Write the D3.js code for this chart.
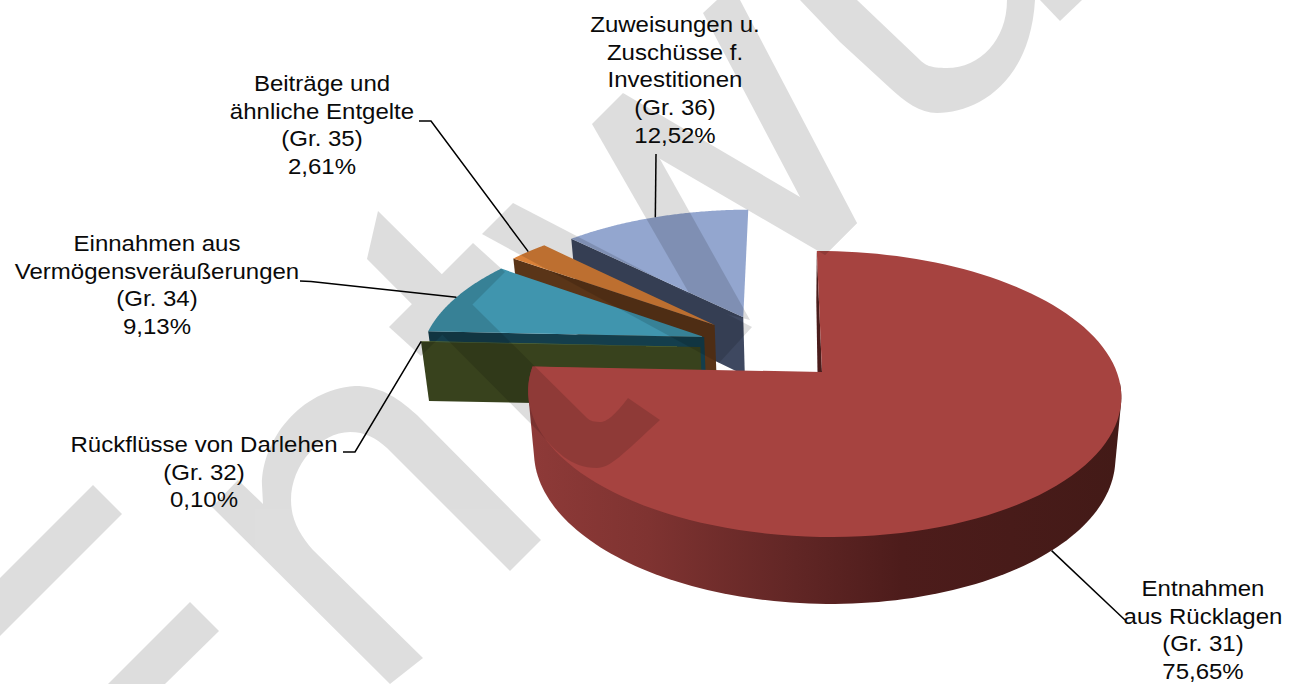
<!DOCTYPE html>
<html lang="de">
<head>
<meta charset="utf-8">
<title>Einnahmen</title>
<script src="https://cdnjs.cloudflare.com/ajax/libs/d3/7.8.5/d3.min.js"></script>
<style>
html,body{margin:0;padding:0;background:#fff;overflow:hidden}
svg{display:block}
text{font-family:"Liberation Sans",Arial,sans-serif;font-size:22.5px;fill:#0a0a0a;text-anchor:middle}
</style>
</head>
<body>
<svg id="chart" width="1301" height="684"></svg>
<script>
// ---- data ----
const groups = ["Gr. 31", "Gr. 32", "Gr. 34", "Gr. 35", "Gr. 36"];
const shares = [75.65, 0.10, 9.13, 2.61, 12.52];
const labels = [
  ["Entnahmen", "aus Rücklagen", "(Gr. 31)", "75,65%"],
  ["Rückflüsse von Darlehen", "(Gr. 32)", "0,10%"],
  ["Einnahmen aus", "Vermögensveräußerungen", "(Gr. 34)", "9,13%"],
  ["Beiträge und", "ähnliche Entgelte", "(Gr. 35)", "2,61%"],
  ["Zuweisungen u.", "Zuschüsse f.", "Investitionen", "(Gr. 36)", "12,52%"]
];

// ---- styles ----
const topColors  = ["#a64340", "#5d6b30", "#4095ae", "#da8138", "#93a6cf"];
const wallColors = ["#8e3a38", "#38421d", "#143e4c", "#5a3518", "#3e4860"];

// ---- layout: how far each slice is pulled out of the pie, in pie radii ----
const pullU = [0, -0.424, -0.414, -0.38, -0.278];
const pullV = [0, 0.185, 0.261, 0.355, 0.419];
// label centre x, first baseline y, and leader start points
const labelX = [1203, 204, 157, 322, 675];
const labelY = [596, 452, 251, 91, 32];
const leaderStart = [[1125, 620], [343, 452], [300, 281], [419, 121], [656, 154]];
const leaderElbow = [null, [355, 452], [311, 281.5], [431, 121], null];
const lineGap = 27.7;

// ---- perspective view of the pie's plane ----
const cx = 822, cy = 372, R = 293, Ry = 139.6, persp = 0.154, lean = 0.006, skew = -6;
function project(u, v) {
  const w = 1 + persp * v - lean * u;
  return [cx + (R * u + skew * v) / w, cy - Ry * v / w];
}
// the same point on the lower face of the disc
function drop(p) {
  return [cx + (p[0] - cx) * 0.98, p[1] + 59 + 0.04 * (p[1] - 340)];
}

const arcs = d3.pie().sort(null).startAngle(0).endAngle(2 * Math.PI)(shares);
const rim = (i, t) => project(pullU[i] + Math.sin(t), pullV[i] + Math.cos(t));
const apex = i => project(pullU[i], pullV[i]);
const sweep = (i, a, b) => d3.range(0, 121).map(s => rim(i, a + (b - a) * s / 120));

const svg = d3.select("#chart");
const line = d3.line();
const closed = pts => line(pts) + "Z";

// wall shading of the big slice
const grad = svg.append("defs").append("linearGradient")
  .attr("id", "wall").attr("gradientUnits", "userSpaceOnUse")
  .attr("x1", 530).attr("x2", 1120).attr("y1", 0).attr("y2", 0);
[[0, "#8e3a38"], [0.2, "#7f3331"], [0.45, "#612625"], [0.63, "#4d1c1b"], [1, "#431a17"]]
  .forEach(s => grad.append("stop").attr("offset", s[0]).attr("stop-color", s[1]));

const chart = svg.append("g");

// far slices first, each: cut face, then top
[4, 3, 2, 1].forEach(i => {
  const a = arcs[i], p0 = rim(i, a.startAngle), ap = apex(i);
  chart.append("path").attr("fill", wallColors[i])
    .attr("d", closed([p0, ap, drop(ap), drop(p0)]));
  chart.append("path").attr("fill", topColors[i])
    .attr("d", closed([ap].concat(sweep(i, a.startAngle, a.endAngle))));
});

// big slice: outer wall, inner cut face, top
const big = arcs[0];
const frontTop = sweep(0, 1.65, big.endAngle);
chart.append("path").attr("fill", "url(#wall)")
  .attr("d", closed(d3.polygonHull(frontTop.concat(frontTop.map(drop)))));
const p0 = rim(0, 0), ap0 = apex(0);
chart.append("path").attr("fill", "#4a1c1b")
  .attr("d", closed([p0, ap0, [ap0[0] - 4.5, ap0[1]], [p0[0] - 0.5, p0[1] + 50]]));
chart.append("path").attr("fill", topColors[0])
  .attr("d", closed([ap0].concat(sweep(0, big.startAngle, big.endAngle))));

// leader lines end on the slice edge at its middle angle
const g = svg.append("g");
arcs.forEach((a, i) => {
  const mid = (a.startAngle + a.endAngle) / 2;
  const end = i === 0 ? drop(rim(0, mid)) : rim(i, mid);
  const pts = [leaderStart[i]];
  if (leaderElbow[i]) pts.push(leaderElbow[i]);
  pts.push(end);
  g.append("path").attr("d", line(pts)).attr("fill", "none")
    .attr("stroke", "#000").attr("stroke-width", 1.5);
});

// pale watermark shapes that lie over the chart
const watermark = [
  "M93,485 L122,514 L0,636 L0,578Z",
  "M190,602 L219,631 L165,684 L108,684Z",
  "M541,540 L417,415 C395,395 378,386 355,386 C300,390 262,440 262,485 L263,504 L238,480 L212,507 L390,684 L423,658 L313,550 C300,535 291,520 291,500 C291,465 320,432 350,432 C365,432 376,438 387,448 L510,571Z",
  "M378,211 L367,259 L540,433 C555,450 570,468 597,468 C610,468 622,455 660,420 L628,398 C615,415 607,422 600,422 C595,422 590,421 587,418Z",
  "M389,327 L473,243 L505,272 L421,356Z",
  "M513,203 L752,327 L719,363 L482,234Z",
  "M592,124 L623,93 L750,320 L697,307Z",
  "M623,93 L800,197 L857,223 L825,255 L650,153Z",
  "M703,13 L717,0 L740,0 L857,223 L825,255 L800,197Z",
  "M800,0 L840,42 L890,88 C905,102 920,113 937,113 C975,113 1030,85 1035,0 L1007,0 C1007,40 980,68 947,68 C930,68 925,65 920,60 L857,0Z",
  "M1040,0 L1060,21 L1082,0Z"
];
svg.append("g").attr("opacity", 0.13).selectAll("path").data(watermark).join("path")
  .attr("d", d => d).attr("fill", "#000");

// labels, slightly widened as in the picture
const t = svg.append("g");
labels.forEach((rows, i) => {
  rows.forEach((row, j) => {
    t.append("text")
      .attr("transform", `translate(${labelX[i]},${labelY[i] + j * lineGap}) scale(1.068,1)`)
      .text(row);
  });
});
</script>
</body>
</html>
